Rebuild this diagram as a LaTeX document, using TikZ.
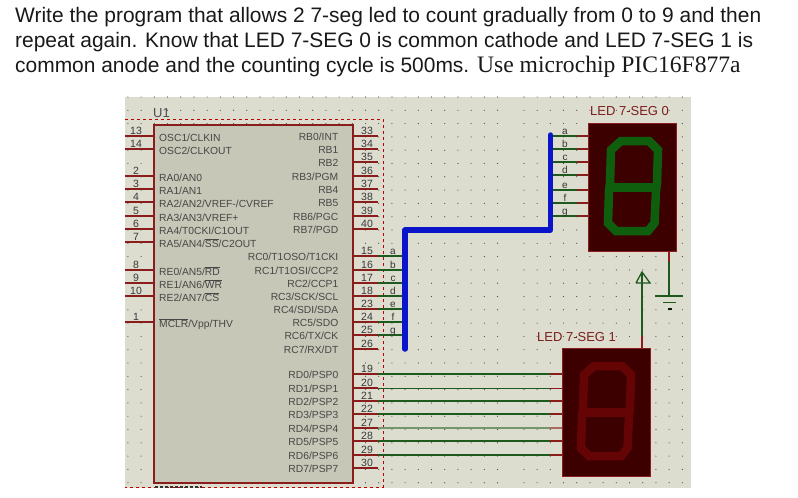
\documentclass[tikz,border=0pt]{standalone}
\usepackage{fontspec}
\setmainfont{Liberation Sans}
\newfontfamily\tmfont{Liberation Serif}
\usetikzlibrary{calc}
\definecolor{sheet}{HTML}{DCDDCF}
\definecolor{chipfill}{HTML}{C6C7B6}
\definecolor{pinred}{HTML}{8A1C1C}
\definecolor{wiregreen}{HTML}{1E5A1E}
\definecolor{busblue}{HTML}{0A14C8}
\definecolor{ledbody}{HTML}{3C0000}
\definecolor{segon}{HTML}{0E5E0E}
\definecolor{segoff}{HTML}{640404}
\definecolor{labred}{HTML}{7C1E1E}
\newcommand{\ovl}[1]{$\overline{\hbox{#1}}$}
\tikzset{
  headline/.style={anchor=base west,inner sep=0pt,font=\fontsize{20.95}{23}\selectfont,text=black!90},
  pinlabel/.style={inner sep=0pt,font=\fontsize{10.3}{11}\selectfont,text=black!72},
  pinnum/.style={inner sep=0pt,anchor=base,font=\fontsize{10.5}{11}\selectfont,text=black!78},
  netlabel/.style={inner sep=0pt,anchor=base,font=\fontsize{10}{11}\selectfont,text=black!80},
  pinline/.style={draw=pinred,line width=1.5pt},
  wireline/.style={draw=wiregreen,line width=1.3pt},
  redstub/.style={draw=pinred,line width=1.3pt},
  busline/.style={draw=busblue,line width=5.5pt,line cap=round,line join=round},
  ledbox/.style={draw=pinred,fill=ledbody,line width=1pt,inner sep=0pt,anchor=north west,minimum width=88pt,minimum height=128pt},
  ledname/.style={inner sep=0pt,anchor=base west,font=\fontsize{13}{14}\selectfont,text=labred},
  sevenseg/.pic={
    \draw[line width=8.5pt,#1] (33,18)--(61,18)--(70,27)--(69,60)--(68,68)--(66.5,100)--(60,108)--(28,108)--(20,100)--(21,68)--(22,60)--(23,27)--cycle;
    \draw[line width=8.5pt,#1] (21,64.5)--(68.5,64.5);
  }
}
\begin{document}
\begin{tikzpicture}[x=1pt,y=-1pt]
\useasboundingbox (0,0) rectangle (798,498);
\fill[white] (0,0) rectangle (798,498);
% headline
\node[headline] (line1) at (15,22) {Write the program that allows 2 7-seg led to count gradually from 0 to 9 and then};
\node[headline] (line2) at (15,47) {repeat again. Know that LED 7-SEG 0 is common cathode and LED 7-SEG 1 is};
\node[headline] (line3) at (15,72) {common anode and the counting cycle is 500ms. {\tmfont\fontsize{23.6}{24}\selectfont Use microchip PIC16F877a}};
% sheet and grid
\fill[sheet] (125,97) rectangle (691,488);
\foreach \i in {0,...,42}{
  \ifnum\i=29\relax\else
  \foreach \j in {0,...,29}{
    \pgfmathsetmacro{\px}{127.9+13.2*\i}
    \pgfmathsetmacro{\py}{97+13.3*\j}
    \fill[black!70] (\px,\py) circle (0.6pt);
  }
  \fi
}
% sub-circuit frame
\draw[draw=red!75!black,line width=1pt,dash pattern=on 3pt off 3pt] (125,119) -- (383,119) -- (383,487) -- (125,487);
\draw[draw=black!80,line width=1.2pt,dash pattern=on 3pt off 2pt] (155,487) -- (202,487);
\node[inner sep=0pt,anchor=base west,font=\fontsize{13}{14}\selectfont,text=black!70] (u1) at (153,117) {U1};
% chip
\node[draw=pinred,fill=chipfill,line width=1.8pt,inner sep=0pt,anchor=north west,minimum width=199pt,minimum height=358pt] (chip) at (153,124) {};
% left pins
\foreach \n/\y/\t in {13/136/{OSC1/CLKIN},14/149/{OSC2/CLKOUT},2/176/{RA0/AN0},3/189/{RA1/AN1},4/202/{RA2/AN2/VREF-/CVREF},5/216/{RA3/AN3/VREF+},6/229/{RA4/T0CKI/C1OUT},7/242/{RA5/AN4/\ovl{SS}/C2OUT},8/270/{RE0/AN5/\ovl{RD}},9/283/{RE1/AN6/\ovl{WR}},10/296/{RE2/AN7/\ovl{CS}},1/322/{\ovl{MCLR}/Vpp/THV}}{
  \coordinate (L\n) at (125,\y);
  \draw[pinline] (L\n) -- (L\n -| chip.west);
  \node[pinnum] (ln\n) at (136,\y-2) {\n};
  \node[pinlabel,anchor=base west] (lt\n) at (159,\y+5.5) {\t};
}
% right pins
\foreach \n/\y/\t in {33/136/{RB0/INT},34/149/{RB1},35/162/{RB2},36/176/{RB3/PGM},37/189/{RB4},38/202/{RB5},39/216/{RB6/PGC},40/229/{RB7/PGD},15/256/{RC0/T1OSO/T1CKI},16/270/{RC1/T1OSI/CCP2},17/283/{RC2/CCP1},18/296/{RC3/SCK/SCL},23/309/{RC4/SDI/SDA},24/322/{RC5/SDO},25/335/{RC6/TX/CK},26/349/{RC7/RX/DT},19/374/{RD0/PSP0},20/388/{RD1/PSP1},21/401/{RD2/PSP2},22/414/{RD3/PSP3},27/428/{RD4/PSP4},28/441/{RD5/PSP5},29/455/{RD6/PSP6},30/468/{RD7/PSP7}}{
  \coordinate (R\n) at (378,\y);
  \draw[pinline] (R\n) -- (R\n -| chip.east);
  \node[pinnum] (rn\n) at (367,\y-2) {\n};
  \node[pinlabel,anchor=base east] (rt\n) at (338.5,\y+4.5) {\t};
}
% displays
\node[ledbox] (led0) at (588,123) {};
\pic at (588,123) {sevenseg=segon};
\node[ledbox] (led1) at (562,348) {};
\pic at (561,348) {sevenseg=segoff};
\node[ledname] (led0name) at (590,115) {LED 7-SEG 0};
\node[ledname] (led1name) at (537,341) {LED 7-SEG 1};
% bus
\coordinate (busA) at (405,349);
\coordinate (busB) at (405,230);
\coordinate (busC) at (550.5,230);
\coordinate (busD) at (550.5,135);
% RC wires to bus
\foreach \n/\l in {15/a,16/b,17/c,18/d,23/e,24/f,25/g}{
  \draw[wireline] (R\n) -- (R\n -| busA);
  \node[netlabel] (nl\n) at ($(R\n)+(15,-2)$) {\l};
}
% bus to LED 0
\foreach \y/\l in {136/a,149/b,162/c,175/d,190/e,203/f,216/g}{
  \coordinate (S\l) at (550.5,\y);
  \coordinate (T\l) at (577,\y);
  \draw[wireline] (S\l) -- (T\l);
  \draw[redstub] (T\l) -- (T\l -| led0.west);
  \node[netlabel] (ns\l) at (565,\y-2) {\l};
}
\draw[busline] (busA) -- (busB) -- (busC) -- (busD);
% RD wires to LED 1
\foreach \n in {19,21,22,28,29}{
  \coordinate (W\n) at (550,0);
  \draw[wireline] (R\n) -- (R\n -| W\n);
  \draw[redstub] (R\n -| W\n) -- (R\n -| led1.west);
}
\draw[wiregreen,line width=0.9pt] (R20) -- (550,388);
\draw[pinred,line width=0.9pt] (550,388) -- (R20 -| led1.west);
\draw[wiregreen!55!sheet,line width=1.2pt] (R27) -- (550,428);
\draw[pinred!60!sheet,line width=1.2pt] (550,428) -- (R27 -| led1.west);
% ground of LED 0
\coordinate (g0) at (669,296);
\draw[redstub] (669,251) -- (669,262);
\draw[wireline] (669,262) -- (g0);
\draw[wiregreen,line width=1.3pt] (655,296) -- (683,296);
\draw[wiregreen,line width=1.3pt] (663,302.5) -- (676,302.5);
\draw[black!70!wiregreen,line width=1.3pt] (668,309) -- (672,309);
% supply of LED 1
\coordinate (p1) at (642,283);
\draw[redstub] (642,348) -- (642,336);
\draw[wireline] (642,336) -- (p1);
\draw[wiregreen,line width=1.3pt] (636,283) -- (650,283) -- (642,272) -- (636,283);
\draw[wiregreen,line width=1.3pt] (p1) -- (642,272);
\end{tikzpicture}
\end{document}
